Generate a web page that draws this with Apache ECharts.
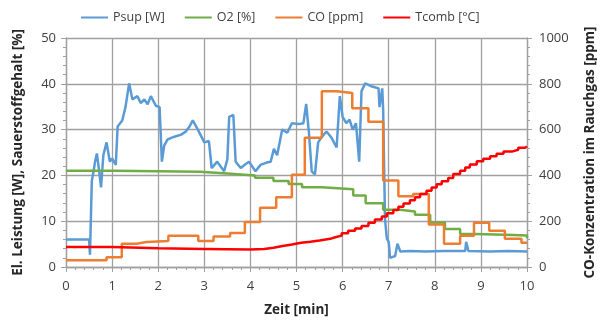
<!DOCTYPE html>
<html>
<head>
<meta charset="utf-8">
<script src="https://cdn.jsdelivr.net/npm/echarts@6/dist/echarts.min.js"></script>
<style>
  html, body { margin: 0; padding: 0; background: #fff; }
  #chart { width: 606px; height: 322px; }
</style>
</head>
<body>
<div id="chart"></div>
<script>
// Zeit [min] / Werte
var psupT = [0, 0.5, 0.52, 0.56, 0.6, 0.63, 0.67, 0.72, 0.76, 0.81, 0.88, 0.95, 1.0, 1.08, 1.12, 1.22, 1.29, 1.37, 1.44, 1.55, 1.62, 1.7, 1.77, 1.84, 1.95, 2.03, 2.08, 2.13, 2.2, 2.28, 2.4, 2.5, 2.6, 2.68, 2.75, 2.86, 3.0, 3.1, 3.16, 3.28, 3.43, 3.5, 3.54, 3.63, 3.68, 3.79, 3.9, 3.97, 4.11, 4.22, 4.35, 4.44, 4.51, 4.58, 4.69, 4.8, 4.9, 5.05, 5.15, 5.21, 5.27, 5.33, 5.4, 5.47, 5.55, 5.65, 5.76, 5.87, 5.94, 6.0, 6.08, 6.15, 6.22, 6.29, 6.36, 6.41, 6.49, 6.64, 6.78, 6.8, 6.86, 6.88, 6.92, 6.96, 7.0, 7.03, 7.14, 7.19, 7.25, 7.46, 7.8, 8.2, 8.66, 8.68, 8.73, 9.2, 9.6, 10];
var psupV = [6.0, 6.0, 2.7, 18.8, 21, 23, 24.8, 20.9, 17.4, 24.4, 27.2, 23, 23.7, 22.3, 30.7, 32, 34.9, 40.1, 36.6, 37.3, 35.8, 36.6, 35.5, 37.3, 35.2, 34.9, 23, 26.5, 27.8, 28.2, 28.6, 28.9, 29.6, 30.7, 32, 30, 27.2, 27.5, 21.6, 23, 20.9, 23.5, 32.8, 33.2, 23, 21.6, 22.5, 23, 20.9, 22.3, 22.8, 23, 25.8, 24.4, 30, 29.3, 31.4, 31.2, 31.4, 35.6, 29.3, 20.9, 20.2, 27.2, 28.4, 29.6, 28.2, 26.1, 37.3, 32.8, 31.4, 32.2, 30, 31.4, 23, 38.4, 40.1, 39.4, 39, 34.9, 39, 34.2, 10.4, 6.2, 5.5, 2.0, 2.4, 5.1, 3.4, 3.5, 3.4, 3.5, 3.5, 5.5, 3.5, 3.4, 3.5, 3.4];

var o2T = [0, 1.0, 2.0, 2.9, 3.5, 4.1, 4.5, 4.83, 5.12, 5.3, 5.55, 6.23, 6.5, 6.88, 7.25, 7.57, 7.9, 8.22, 8.55, 8.87, 9.3, 9.7, 10];
var o2V = [21.0, 20.9, 20.8, 20.4, 20.0, 19.5, 18.8, 18.1, 17.4, 17.4, 17.0, 15.6, 13.9, 12.5, 12.1, 11.4, 9.7, 8.3, 7.2, 7.1, 7.0, 6.9, 6.3];

var coT = [0, 0.88, 1.21, 1.53, 1.75, 2.22, 2.87, 3.2, 3.56, 3.88, 4.21, 4.56, 4.9, 5.18, 5.55, 5.87, 6.21, 6.56, 6.88, 7.21, 7.53, 7.87, 8.2, 8.55, 8.85, 9.18, 9.52, 9.88, 10];
var coV = [30, 43, 102, 109, 113, 137, 113, 133, 148, 196, 259, 305, 403, 564, 767, 760, 693, 634, 378, 309, 319, 186, 102, 137, 193, 158, 123, 106, 106];

var tT = [0, 1.0, 2.0, 3.0, 4.0, 4.3, 4.5, 4.7, 4.9, 5.1, 5.3, 5.5, 5.73, 5.84, 5.98, 6.12, 6.27, 6.41, 6.56, 6.70, 6.85, 6.96, 7.10, 7.21, 7.32, 7.46, 7.57, 7.68, 7.82, 7.93, 8.04, 8.15, 8.29, 8.40, 8.55, 8.66, 8.76, 8.91, 9.05, 9.20, 9.34, 9.49, 9.67, 9.81, 9.96, 10];
var tV = [87, 82, 79, 76, 79, 84, 92, 98, 106, 110, 116, 123, 130, 137, 147, 158, 168, 179, 193, 207, 221, 235, 249, 263, 277, 291, 305, 319, 333, 347, 361, 375, 389, 406, 420, 434, 448, 462, 473, 484, 494, 504, 512, 521, 526, 526];

var legendNames = ['Psup [W]', 'O2 [%]', 'CO [ppm]', 'Tcomb [°C]'];

function pairs(t, v) {
  var out = [];
  for (var i = 0; i < t.length; i++) out.push([t[i], v[i]]);
  return out;
}

var font = 'Open Sans';
var grey = '#a0a0a0';
var gridLine = { show: true, lineStyle: { color: grey, width: 1.3 } };
var axisLine = { show: true, lineStyle: { color: grey, width: 1.3 } };
var nameStyle = { fontFamily: font, fontSize: 13.5, fontWeight: 'bold', color: '#262626' };

var chart = echarts.init(document.getElementById('chart'));
chart.setOption({
  animation: false,
  textStyle: { fontFamily: font },
  legend: {
    data: legendNames,
    top: 6,
    left: 76,
    itemWidth: 27,
    itemHeight: 2,
    itemGap: 20,
    icon: 'rect',
    textStyle: { fontFamily: font, fontSize: 12.5, color: '#404040' }
  },
  grid: { left: 66, right: 79, top: 38, bottom: 46 },
  xAxis: {
    type: 'value', min: 0, max: 10, interval: 1,
    name: 'Zeit [min]', nameLocation: 'middle', nameGap: 36,
    nameTextStyle: nameStyle,
    axisLine: axisLine,
    axisTick: { show: true, length: 5, lineStyle: { color: grey } },
    minorTick: { show: true, splitNumber: 5, length: 3, lineStyle: { color: grey } },
    axisLabel: { fontSize: 13, color: '#404040', margin: 13 },
    splitLine: gridLine
  },
  yAxis: [{
    type: 'value', min: 0, max: 50, interval: 10,
    name: 'El. Leistung [W], Sauerstoffgehalt [%]', nameLocation: 'middle', nameGap: 41,
    nameTextStyle: nameStyle,
    axisLine: axisLine,
    axisTick: { show: true, length: 5, lineStyle: { color: grey } },
    minorTick: { show: true, splitNumber: 5, length: 3, lineStyle: { color: grey } },
    axisLabel: { fontSize: 13, color: '#404040', margin: 10 },
    splitLine: gridLine
  }, {
    type: 'value', min: 0, max: 1000, interval: 200,
    name: 'CO-Konzentration im Rauchgas [ppm]', nameLocation: 'middle', nameGap: 56, nameRotate: 90,
    nameTextStyle: nameStyle,
    axisLine: axisLine,
    axisTick: { show: true, length: 5, lineStyle: { color: grey } },
    minorTick: { show: true, splitNumber: 5, length: 3, lineStyle: { color: grey } },
    axisLabel: { fontSize: 13, color: '#404040', margin: 12, formatter: function (v) { return String(v); } },
    splitLine: { show: false }
  }],
  series: [{
    name: 'Psup [W]', type: 'line', yAxisIndex: 0, showSymbol: false,
    data: pairs(psupT, psupV),
    lineStyle: { color: '#5b9bd5', width: 2.5 }, itemStyle: { color: '#5b9bd5' }
  }, {
    name: 'O2 [%]', type: 'line', yAxisIndex: 0, showSymbol: false, step: 'end',
    data: pairs(o2T, o2V),
    lineStyle: { color: '#70ad47', width: 2.5 }, itemStyle: { color: '#70ad47' }
  }, {
    name: 'CO [ppm]', type: 'line', yAxisIndex: 1, showSymbol: false, step: 'end',
    data: pairs(coT, coV),
    lineStyle: { color: '#ed7d31', width: 2.5 }, itemStyle: { color: '#ed7d31' }
  }, {
    name: 'Tcomb [°C]', type: 'line', yAxisIndex: 1, showSymbol: false, step: 'end',
    data: pairs(tT, tV),
    lineStyle: { color: '#ff0000', width: 2.5 }, itemStyle: { color: '#ff0000' }
  }]
});
</script>
</body>
</html>
